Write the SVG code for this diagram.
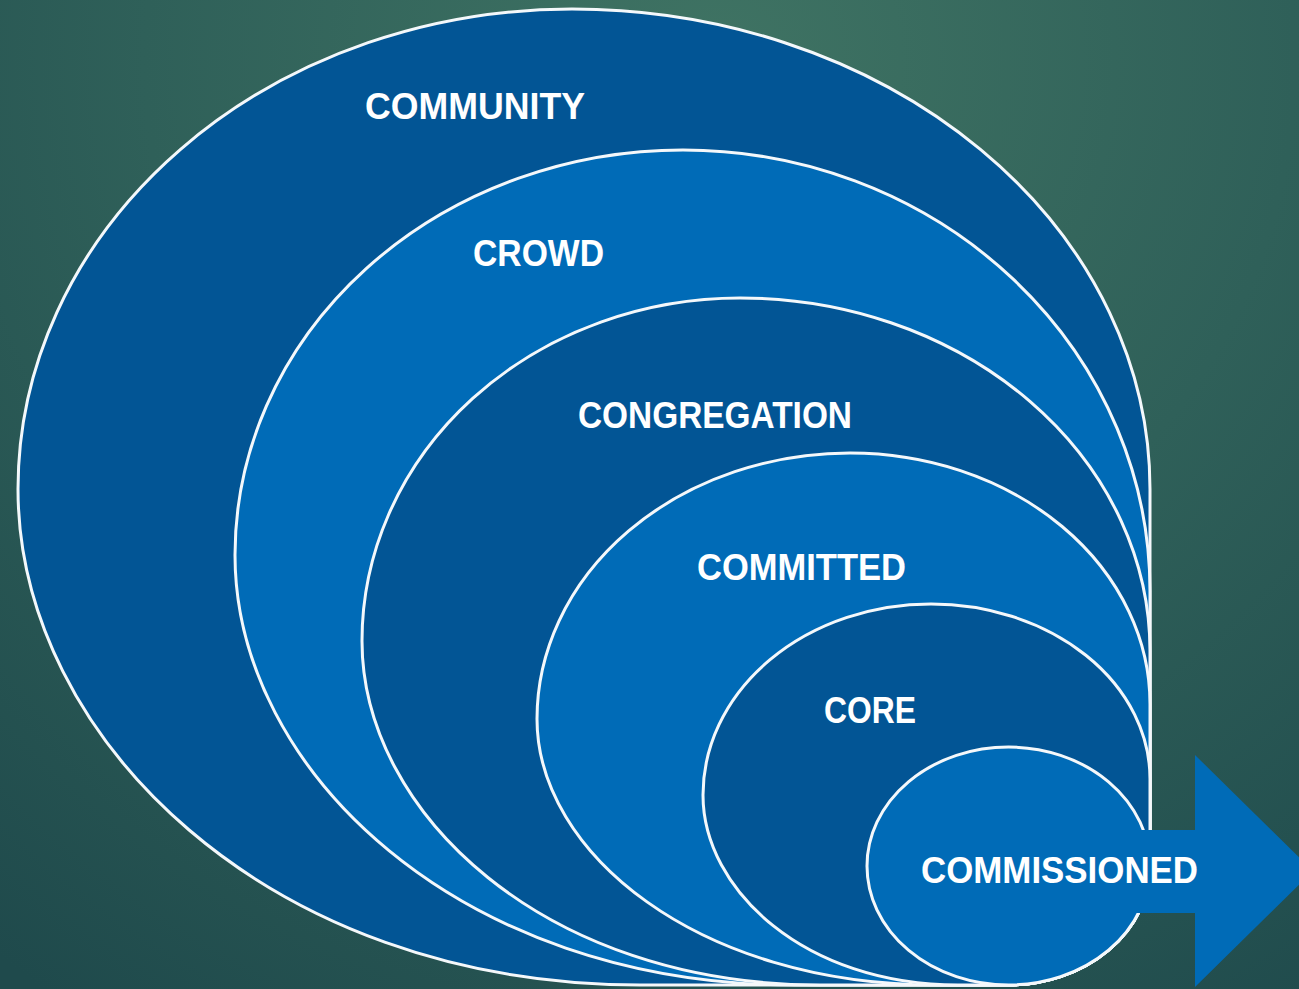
<svg xmlns="http://www.w3.org/2000/svg" width="1299" height="989" viewBox="0 0 1299 989">
  <defs>
    <radialGradient id="bg" cx="720" cy="60" r="1150" gradientUnits="userSpaceOnUse">
      <stop offset="0" stop-color="#3f7363"/>
      <stop offset="0.5" stop-color="#2f6059"/>
      <stop offset="1" stop-color="#1f4a4c"/>
    </radialGradient>
    <style>
      .ring { stroke: #f4f8fb; stroke-width: 3; stroke-linejoin: round; }
      .dark { fill: #025595; }
      .light { fill: #006bb7; }
      .lbl { font-family: "Liberation Sans", Arial, sans-serif; font-weight: bold; font-size: 37px; fill: #ffffff; text-anchor: middle; }
    </style>
  </defs>
  <rect x="0" y="0" width="1299" height="989" fill="url(#bg)"/>

  <g id="community">
    <path class="ring dark" d="M18,489 A554,480 0 0 1 572,9 A578,480 0 0 1 1150,489 L1150,866 A141.5,119 0 0 1 1008.5,985 L640,985 C267,985 18,737 18,489 Z"/>
    <text class="lbl" x="475" y="119" textLength="220" lengthAdjust="spacingAndGlyphs">COMMUNITY</text>
  </g>
  <g id="crowd">
    <path class="ring light" d="M235,555 A448,405 0 0 1 683,150 A467,441 0 0 1 1150,591 L1150,866 A141.5,119 0 0 1 1008.5,985 L795,985 C459,985 235,770 235,555 Z"/>
    <text class="lbl" x="538.5" y="266" textLength="131" lengthAdjust="spacingAndGlyphs">CROWD</text>
  </g>
  <g id="congregation">
    <path class="ring dark" d="M362,641 A378,343 0 0 1 740,298 A410,353 0 0 1 1150,651 L1150,866 A141.5,119 0 0 1 1008.5,985 L820,985 C545,985 362,813 362,641 Z"/>
    <text class="lbl" x="715" y="428" textLength="274" lengthAdjust="spacingAndGlyphs">CONGREGATION</text>
  </g>
  <g id="committed">
    <path class="ring light" d="M537,719 A313,266 0 0 1 850,453 A300,251 0 0 1 1150,704 L1150,866 A141.5,119 0 0 1 1008.5,985 L937,985 C697,985 537,852 537,719 Z"/>
    <text class="lbl" x="801.5" y="580" textLength="209" lengthAdjust="spacingAndGlyphs">COMMITTED</text>
  </g>
  <g id="core">
    <path class="ring dark" d="M703,795 A228,191 0 0 1 931,604 A219,175 0 0 1 1150,779 L1150,866 A141.5,119 0 0 1 1008.5,985 L958,985 C805,985 703,890 703,795 Z"/>
    <text class="lbl" x="870" y="723" textLength="92" lengthAdjust="spacingAndGlyphs">CORE</text>
  </g>
  <g id="commissioned">
    <ellipse class="ring light" cx="1008.5" cy="866" rx="141.5" ry="119"/>
    <polygon class="light" points="1132,830 1195,830 1195,755 1313,871 1195,987 1195,913 1132,913"/>
    <text class="lbl" x="1059.5" y="883" textLength="277" lengthAdjust="spacingAndGlyphs">COMMISSIONED</text>
  </g>
</svg>
